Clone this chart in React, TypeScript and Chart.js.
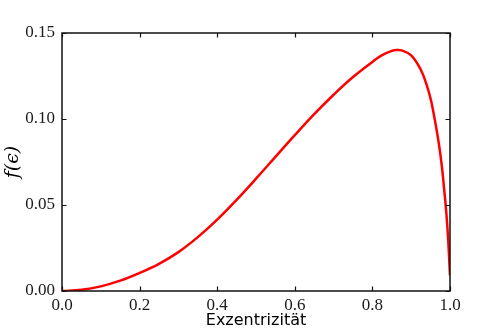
import React, { useEffect, useRef } from "react";
import { Chart, registerables } from "chart.js";

Chart.register(...registerables);

const eccentricity = [0, 0.05, 0.1, 0.15, 0.2, 0.25, 0.3, 0.35, 0.4, 0.45, 0.5, 0.55, 0.6, 0.65, 0.7, 0.75, 0.8, 0.825, 0.85, 0.8625, 0.875, 0.9, 0.925, 0.94, 0.95, 0.955, 0.96, 0.965, 0.97, 0.975, 0.98, 0.985, 0.99, 0.995, 1.0];
const density = [0, 0.0007, 0.0027, 0.006, 0.0105, 0.0158, 0.0226, 0.0313, 0.0415, 0.053, 0.0653, 0.078, 0.0906, 0.1028, 0.1141, 0.1244, 0.1332, 0.1371, 0.1396, 0.1401, 0.1399, 0.137, 0.1285, 0.1197, 0.1118, 0.1066, 0.1006, 0.0943, 0.0875, 0.0797, 0.0705, 0.059, 0.047, 0.031, 0.009];

const xTicks = [0, 0.2, 0.4, 0.6, 0.8, 1.0];
const yTicks = [0, 0.05, 0.1, 0.15];

const framePlugin = {
  id: "frame",
  afterDatasetsDraw(chart: any) {
    const { ctx, chartArea, scales } = chart;
    const { left, right, top, bottom } = chartArea;
    ctx.save();
    ctx.strokeStyle = "#111";
    ctx.lineWidth = 1.2;
    const tl = 4.5;
    ctx.beginPath();
    for (const v of xTicks) {
      const px = Math.round(scales.x.getPixelForValue(v)) + 0.5;
      ctx.moveTo(px, bottom);
      ctx.lineTo(px, bottom - tl);
      ctx.moveTo(px, top);
      ctx.lineTo(px, top + tl);
    }
    for (const v of yTicks) {
      const py = Math.round(scales.y.getPixelForValue(v)) + 0.5;
      ctx.moveTo(left, py);
      ctx.lineTo(left + tl, py);
      ctx.moveTo(right, py);
      ctx.lineTo(right - tl, py);
    }
    ctx.stroke();
    ctx.lineWidth = 1.5;
    ctx.strokeRect(left, top, right - left, bottom - top);
    ctx.restore();
  },
};

export default function App() {
  const ref = useRef<HTMLCanvasElement>(null);
  useEffect(() => {
    document.body.style.margin = "0";
    const chart = new Chart(ref.current!, {
      type: "line",
      data: {
        datasets: [
          {
            data: eccentricity.map((x, i) => ({ x, y: density[i] })),
            borderColor: "#ff0000",
            borderWidth: 2.5,
            pointRadius: 0,
            fill: false,
            tension: 0.4,
          },
        ],
      },
      options: {
        animation: false,
        responsive: false,
        maintainAspectRatio: false,
        layout: { padding: { left: 0, top: 33, right: 50, bottom: 0 } },
        plugins: { legend: { display: false }, tooltip: { enabled: false } },
        scales: {
          x: {
            type: "linear",
            min: 0,
            max: 1,
            afterBuildTicks: (s: any) => {
              s.ticks = xTicks.map((v) => ({ value: v }));
            },
            afterFit: (s: any) => {
              s.height = 43;
            },
            grid: { display: false, drawTicks: false },
            border: { display: false },
            ticks: {
              autoSkip: false,
              maxRotation: 0,
              padding: 4,
              color: "#1a1a1a",
              font: { family: "Liberation Serif", size: 17 },
              callback: (v: any) => Number(v).toFixed(1),
            },
            title: {
              display: true,
              text: "Exzentrizität",
              color: "#000",
              font: { family: "DejaVu Sans", size: 16 },
              padding: { top: 0, bottom: 4 },
            },
          },
          y: {
            min: 0,
            max: 0.15,
            afterBuildTicks: (s: any) => {
              s.ticks = yTicks.map((v) => ({ value: v }));
            },
            afterFit: (s: any) => {
              s.width = 62;
            },
            grid: { display: false, drawTicks: false },
            border: { display: false },
            ticks: {
              autoSkip: false,
              padding: 7,
              color: "#1a1a1a",
              font: { family: "Liberation Serif", size: 17 },
              callback: (v: any) => Number(v).toFixed(2),
            },
            title: {
              display: true,
              text: "f(ϵ)",
              color: "#000",
              font: { family: "DejaVu Serif", size: 19, style: "italic" },
              padding: { top: 2, bottom: 0 },
            },
          },
        },
      },
      plugins: [framePlugin],
    });
    return () => chart.destroy();
  }, []);
  return (
    <div style={{ position: "absolute", left: 0, top: 0, width: 500, height: 334, background: "#fff" }}>
      <canvas ref={ref} width={500} height={334} style={{ width: 500, height: 334 }} />
    </div>
  );
}
